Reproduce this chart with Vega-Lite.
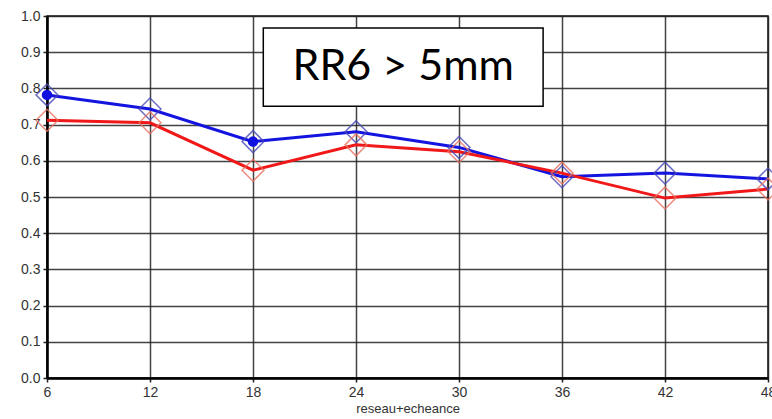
{
  "$schema": "https://vega.github.io/schema/vega-lite/v6.json",
  "width": 721,
  "height": 362,
  "autosize": {"type": "none"},
  "padding": {"left": 47, "top": 16, "right": 4, "bottom": 41},
  "background": "white",
  "config": {
    "view": {"stroke": "#111", "strokeWidth": 1.5},
    "axis": {
      "labelFont": "Liberation Sans",
      "labelFontSize": 14,
      "labelColor": "#333",
      "titleFont": "Liberation Sans",
      "titleFontSize": 13,
      "titleFontWeight": "normal",
      "titleColor": "#333",
      "gridColor": "#222",
      "gridWidth": 1.5,
      "gridOpacity": 0.85,
      "domainColor": "#000",
      "domainWidth": 2.5,
      "tickColor": "#222",
      "tickSize": 4,
      "tickWidth": 1.5
    }
  },
  "datasets": {
    "series": [
      {"h": 6, "v": 0.782, "s": "A"},
      {"h": 12, "v": 0.743, "s": "A"},
      {"h": 18, "v": 0.653, "s": "A"},
      {"h": 24, "v": 0.680, "s": "A"},
      {"h": 30, "v": 0.637, "s": "A"},
      {"h": 36, "v": 0.556, "s": "A"},
      {"h": 42, "v": 0.566, "s": "A"},
      {"h": 48, "v": 0.550, "s": "A"},
      {"h": 6, "v": 0.712, "s": "B"},
      {"h": 12, "v": 0.705, "s": "B"},
      {"h": 18, "v": 0.574, "s": "B"},
      {"h": 24, "v": 0.644, "s": "B"},
      {"h": 30, "v": 0.625, "s": "B"},
      {"h": 36, "v": 0.566, "s": "B"},
      {"h": 42, "v": 0.497, "s": "B"},
      {"h": 48, "v": 0.522, "s": "B"}
    ],
    "note": [
      {"x0": 18.6, "x1": 34.9, "y0": 0.751, "y1": 0.967, "xm": 26.75, "ym": 0.859, "label": "RR6 > 5mm"}
    ]
  },
  "layer": [
    {
      "data": {"name": "series"},
      "mark": {"type": "line", "strokeWidth": 3},
      "encoding": {
        "x": {"field": "h", "type": "quantitative", "scale": {"domain": [6, 48], "nice": false, "zero": false},
              "axis": {"values": [6, 12, 18, 24, 30, 36, 42, 48], "title": "reseau+echeance", "labelPadding": 3, "titlePadding": 3, "labelFlush": false}},
        "y": {"field": "v", "type": "quantitative", "scale": {"domain": [0, 1], "nice": false},
              "axis": {"values": [0, 0.1, 0.2, 0.3, 0.4, 0.5, 0.6, 0.7, 0.8, 0.9, 1.0], "format": ".1f", "title": null, "labelPadding": 3}},
        "color": {"field": "s", "type": "nominal", "scale": {"domain": ["A", "B"], "range": ["#1414e0", "#f01818"]}, "legend": null}
      }
    },
    {
      "data": {"name": "series"},
      "mark": {"type": "point", "shape": "diamond", "size": 480, "filled": false, "strokeWidth": 1.5, "opacity": 0.8},
      "encoding": {
        "x": {"field": "h", "type": "quantitative", "scale": {"domain": [6, 48], "nice": false, "zero": false},
              "axis": {"values": [6, 12, 18, 24, 30, 36, 42, 48], "title": "reseau+echeance", "labelPadding": 3, "titlePadding": 3, "labelFlush": false}},
        "y": {"field": "v", "type": "quantitative", "scale": {"domain": [0, 1], "nice": false},
              "axis": {"values": [0, 0.1, 0.2, 0.3, 0.4, 0.5, 0.6, 0.7, 0.8, 0.9, 1.0], "format": ".1f", "title": null, "labelPadding": 3}},
        "stroke": {"field": "s", "type": "nominal", "scale": {"domain": ["A", "B"], "range": ["#4848b8", "#e87060"]}, "legend": null}
      }
    },
    {
      "data": {"name": "series"},
      "transform": [{"filter": "datum.s == 'A' && (datum.h == 6 || datum.h == 18)"}],
      "mark": {"type": "point", "shape": "circle", "size": 110, "filled": true, "color": "#1010e0", "opacity": 1},
      "encoding": {
        "x": {"field": "h", "type": "quantitative", "scale": {"domain": [6, 48], "nice": false, "zero": false},
              "axis": {"values": [6, 12, 18, 24, 30, 36, 42, 48], "title": "reseau+echeance", "labelPadding": 3, "titlePadding": 3, "labelFlush": false}},
        "y": {"field": "v", "type": "quantitative", "scale": {"domain": [0, 1], "nice": false},
              "axis": {"values": [0, 0.1, 0.2, 0.3, 0.4, 0.5, 0.6, 0.7, 0.8, 0.9, 1.0], "format": ".1f", "title": null, "labelPadding": 3}}
      }
    },
    {
      "data": {"name": "note"},
      "mark": {"type": "rect", "fill": "white", "stroke": "#000", "strokeWidth": 1.5},
      "encoding": {
        "x": {"field": "x0", "type": "quantitative", "scale": {"domain": [6, 48], "nice": false, "zero": false},
              "axis": {"values": [6, 12, 18, 24, 30, 36, 42, 48], "title": "reseau+echeance", "labelPadding": 3, "titlePadding": 3, "labelFlush": false}},
        "x2": {"field": "x1"},
        "y": {"field": "y0", "type": "quantitative", "scale": {"domain": [0, 1], "nice": false},
              "axis": {"values": [0, 0.1, 0.2, 0.3, 0.4, 0.5, 0.6, 0.7, 0.8, 0.9, 1.0], "format": ".1f", "title": null, "labelPadding": 3}},
        "y2": {"field": "y1"}
      }
    },
    {
      "data": {"name": "note"},
      "mark": {"type": "text", "font": "Lato", "fontSize": 43, "color": "#000", "align": "center", "baseline": "middle"},
      "encoding": {
        "x": {"field": "xm", "type": "quantitative", "scale": {"domain": [6, 48], "nice": false, "zero": false},
              "axis": {"values": [6, 12, 18, 24, 30, 36, 42, 48], "title": "reseau+echeance", "labelPadding": 3, "titlePadding": 3, "labelFlush": false}},
        "y": {"field": "ym", "type": "quantitative", "scale": {"domain": [0, 1], "nice": false},
              "axis": {"values": [0, 0.1, 0.2, 0.3, 0.4, 0.5, 0.6, 0.7, 0.8, 0.9, 1.0], "format": ".1f", "title": null, "labelPadding": 3}},
        "text": {"field": "label"}
      }
    }
  ]
}
